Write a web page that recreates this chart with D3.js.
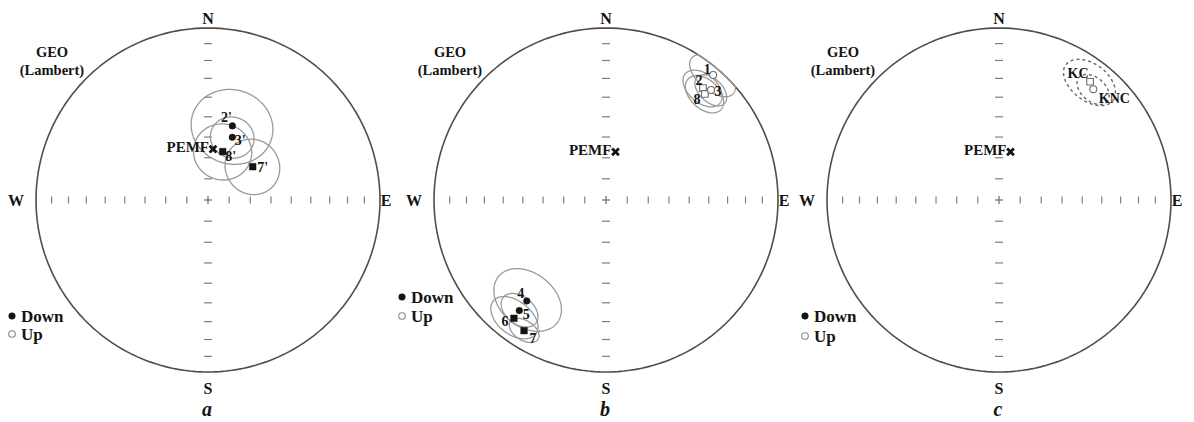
<!DOCTYPE html>
<html><head><meta charset="utf-8">
<script src="https://cdn.jsdelivr.net/npm/d3@7"></script>
<style>body{margin:0;background:#fff} svg{display:block}</style>
</head><body>
<svg id="chart" width="1194" height="422"></svg>
<script>
// ---------- DATA ----------
const panelLetters = ["a", "b", "c"];
const cardinalLabels = ["N", "E", "S", "W"];
const tickInclinations = [80, 70, 60, 50, 40, 30, 20, 10];
const legendLabels = ["Down", "Up"];
const frameLabels = ["GEO", "(Lambert)"];

// panel a (declination, inclination, alpha95)
const aLabels = ["2'", "3'", "8'", "7'"];
const aDec = [18.2, 21.2, 16.9, 53.3];
const aInc = [52.6, 57.9, 66.0, 63.5];
const aA95 = [18.5, 10, 13.5, 13];
const aShape = ["circle", "circle", "square", "square"];

// panel b
const bLabels = ["1", "2", "8", "3", "4", "5", "6", "7"];
const bDec = [40.6, 40.9, 43.0, 43.7, 218.1, 218.1, 217.9, 212.1];
const bInc = [-4.8, -15.0, -16.8, -12.6, 26.3, 19.4, 13.9, 11.3];
const bA95 = [9.5, 8.5, 8.5, 7, 15, 8, 10, 6];
const bShape = ["circle", "square", "square", "circle", "circle", "circle", "square", "square"];

// panel c
const cLabels = ["KC", "KNC"];
const cDec = [37.6, 40.4];
const cInc = [-14.3, -16.5];
const cA95 = [11, 7];
const cShape = ["square", "circle"];

// expected field direction in each panel
const pemfLabel = "PEMF";
const pemfDec = [5.6, 11.1, 13.4];
const pemfInc = [65.7, 66.7, 66.5];

// ---------- LAYOUT ----------
const svg = d3.select("#chart");
const R = 172;
const centers = [[208, 200], [606, 200], [999, 200]];
const serif = "'Liberation Serif', 'Times New Roman', serif";
const ink = "#141414";

const labelOffsets = {
  a: [[-6, -8], [8, 3], [8, 5], [10, 1]],
  b: [[-6, -5], [-4, -8], [-8, 6], [7, 1], [-6, -8], [7, 4], [-9, 3], [9, 8]],
  c: [[-12, -8], [21, 9]]
};
const legendPos = [[12, 316], [402, 297], [805, 316]];
const legendGap = [18, 19, 20];

const panelData = [
  {labels: aLabels, dec: aDec, inc: aInc, a95: aA95, shape: aShape, dashed: false},
  {labels: bLabels, dec: bDec, inc: bInc, a95: bA95, shape: bShape, dashed: false},
  {labels: cLabels, dec: cDec, inc: cInc, a95: cA95, shape: cShape, dashed: true}
];

const toGeo = (dec, inc) => [180 - dec, Math.abs(inc)];
const timesSym = d3.symbolTimes || d3.symbolCross;

panelData.forEach((pd, pi) => {
  const [cx, cy] = centers[pi];
  const proj = d3.geoAzimuthalEqualArea()
    .rotate([0, -90])
    .clipAngle(90)
    .scale(R / Math.SQRT2)
    .translate([cx, cy])
    .precision(0.1);
  const path = d3.geoPath(proj);
  const g = svg.append("g");

  // primitive circle
  g.append("path").datum({type: "Sphere"}).attr("d", path)
    .attr("fill", "none").attr("stroke", "#544b49").attr("stroke-width", 1.6);

  // ticks along E-W axis (vertical ticks) and N-S axis (horizontal dashes)
  [90, 270].forEach(az => {
    tickInclinations.forEach(inc => {
      const [x, y] = proj(toGeo(az, inc));
      g.append("line").attr("x1", x).attr("x2", x).attr("y1", y - 3.5).attr("y2", y + 3.5)
        .attr("stroke", "#7e7e7e").attr("stroke-width", 1.2);
    });
  });
  [0, 180].forEach(az => {
    tickInclinations.forEach(inc => {
      const [x, y] = proj(toGeo(az, inc));
      g.append("line").attr("x1", x - 4).attr("x2", x + 4).attr("y1", y).attr("y2", y)
        .attr("stroke", "#7e7e7e").attr("stroke-width", 1.2);
    });
  });
  const [px, py] = proj([0, 90]);
  g.append("line").attr("x1", px - 4).attr("x2", px + 4).attr("y1", py).attr("y2", py)
    .attr("stroke", "#6a6a6a").attr("stroke-width", 1.2);
  g.append("line").attr("x1", px).attr("x2", px).attr("y1", py - 4).attr("y2", py + 4)
    .attr("stroke", "#6a6a6a").attr("stroke-width", 1.2);

  // cardinal labels
  const cardPos = [[cx, cy - 182], [cx + 178, cy], [cx, cy + 188], [cx - 192, cy]];
  cardinalLabels.forEach((t, i) => {
    g.append("text").attr("x", cardPos[i][0]).attr("y", cardPos[i][1])
      .attr("text-anchor", "middle").attr("dominant-baseline", "central")
      .attr("font-family", serif).attr("font-weight", "bold").attr("font-size", 16)
      .attr("fill", ink).text(t);
  });

  // frame label
  frameLabels.forEach((t, i) => {
    g.append("text").attr("x", cx - 156).attr("y", cy - 148 + i * 18)
      .attr("text-anchor", "middle").attr("dominant-baseline", "central")
      .attr("font-family", serif).attr("font-weight", "bold").attr("font-size", 14.5)
      .attr("fill", ink).text(t);
  });

  // confidence cones
  pd.dec.forEach((d, i) => {
    const circ = d3.geoCircle().center(toGeo(d, pd.inc[i])).radius(pd.a95[i]).precision(1)();
    g.append("path").datum(circ).attr("d", path)
      .attr("fill", "none").attr("stroke", pd.dashed ? "#666" : "#9a9a9a")
      .attr("stroke-width", pd.dashed ? 1.4 : 1.3)
      .attr("stroke-dasharray", pd.dashed ? "3,3" : null);
  });

  // markers
  pd.dec.forEach((d, i) => {
    const [x, y] = proj(toGeo(d, pd.inc[i]));
    const down = pd.inc[i] >= 0;
    const sq = pd.shape[i] === "square";
    const sym = d3.symbol().type(sq ? d3.symbolSquare : d3.symbolCircle).size(sq ? 44 : (down ? 34 : 38));
    g.append("path").attr("d", sym()).attr("transform", `translate(${x},${y})`)
      .attr("fill", down ? ink : "#fff")
      .attr("stroke", down ? ink : "#6e6e6e")
      .attr("stroke-width", down ? 0.5 : 1.1);
  });

  // point labels
  const offs = labelOffsets[panelLetters[pi]];
  pd.labels.forEach((t, i) => {
    const [x, y] = proj(toGeo(pd.dec[i], pd.inc[i]));
    g.append("text").attr("x", x + offs[i][0]).attr("y", y + offs[i][1])
      .attr("text-anchor", "middle").attr("dominant-baseline", "central")
      .attr("font-family", serif).attr("font-weight", "bold").attr("font-size", 14)
      .attr("fill", ink).text(t);
  });

  // PEMF
  const [ex, ey] = proj(toGeo(pemfDec[pi], pemfInc[pi]));
  g.append("path").attr("d", d3.symbol().type(timesSym).size(32)())
    .attr("transform", `translate(${ex},${ey})` + (d3.symbolTimes ? "" : " rotate(45)"))
    .attr("fill", d3.symbolTimes ? "none" : ink).attr("stroke", ink).attr("stroke-width", 2.8);
  g.append("text").attr("x", ex - 4).attr("y", ey - 2)
    .attr("text-anchor", "end").attr("dominant-baseline", "central")
    .attr("font-family", serif).attr("font-weight", "bold").attr("font-size", 15)
    .attr("fill", ink).text(pemfLabel);

  // legend
  const [lx, ly] = legendPos[pi];
  legendLabels.forEach((t, i) => {
    const yy = ly + i * legendGap[pi];
    g.append("circle").attr("cx", lx).attr("cy", yy).attr("r", 3.3)
      .attr("fill", i === 0 ? ink : "#fff").attr("stroke", i === 0 ? ink : "#888")
      .attr("stroke-width", i === 0 ? 0.5 : 1.1);
    g.append("text").attr("x", lx + 9).attr("y", yy)
      .attr("dominant-baseline", "central")
      .attr("font-family", serif).attr("font-weight", "bold").attr("font-size", 17)
      .attr("fill", ink).text(t);
  });

  // panel letter
  g.append("text").attr("x", cx - 1).attr("y", 416)
    .attr("text-anchor", "middle")
    .attr("font-family", serif).attr("font-weight", "bold").attr("font-style", "italic")
    .attr("font-size", 20).attr("fill", ink).text(panelLetters[pi]);
});
</script>
</body></html>
